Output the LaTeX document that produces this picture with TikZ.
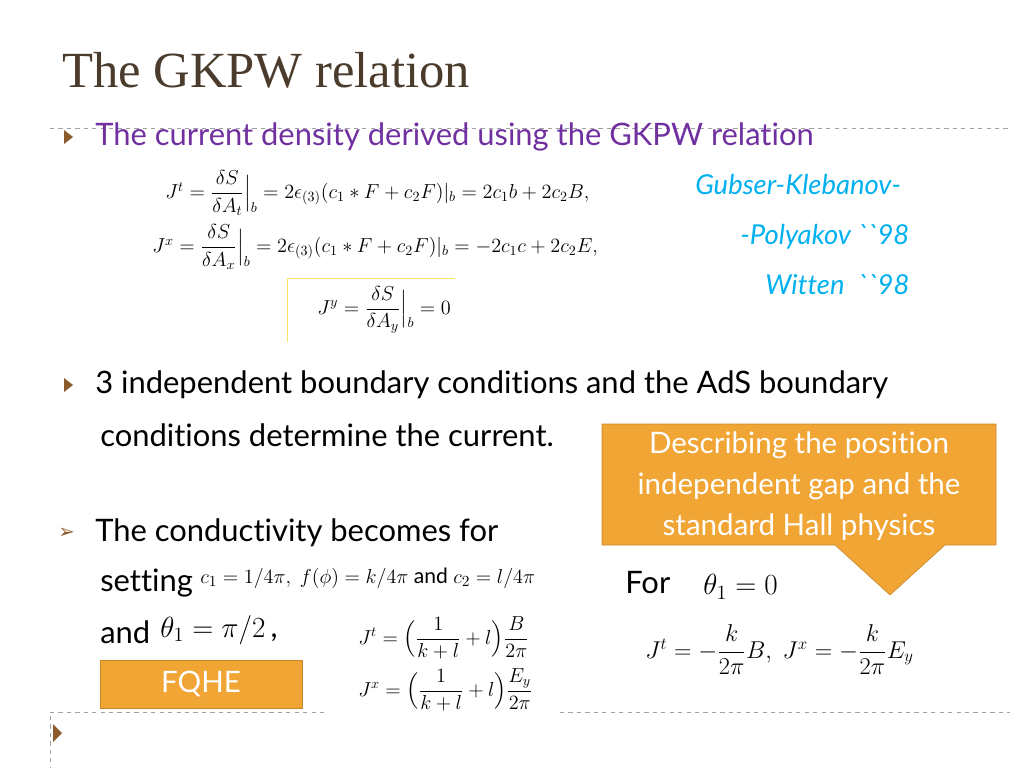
\documentclass[tikz,border=0pt]{standalone}
\usepackage{amsmath}
\usepackage{fontspec}
\setmainfont[Ligatures={NoCommon}]{Lato}
\newfontfamily\titlefont{Liberation Serif}
\newfontfamily\symfont{DejaVu Sans}
\usetikzlibrary{positioning}
\definecolor{titlebrown}{HTML}{4A3B2C}
\definecolor{bulletbrown}{HTML}{8C5A2B}
\definecolor{slidepurple}{HTML}{7030A0}
\definecolor{citeblue}{HTML}{00B0F0}
\definecolor{boxorange}{HTML}{F0A535}
\definecolor{boxedge}{HTML}{C8862A}
\definecolor{ruleline}{HTML}{A0A0A0}
\newcommand{\twoticks}{\textasciigrave\textasciigrave}
\begin{document}
\begin{tikzpicture}[x=0.025cm, y=-0.025cm,
txt/.style={anchor=west, inner sep=0pt, font=\fontsize{22}{26}\selectfont},
cite/.style={anchor=west, inner sep=0pt, text=citeblue, font=\fontsize{19.5}{22}\selectfont\itshape},
eqn/.style={anchor=west, inner sep=0pt, font=\fontsize{14}{17}\selectfont},
tri/.style={fill=bulletbrown, draw=none},
rule/.style={ruleline, dashed, thin},
orangebox/.style={fill=boxorange, draw=boxedge, text=white, align=center, font=\fontsize{21}{24}\selectfont} ]

\useasboundingbox (0,0) rectangle (1024,768);

% title and rules
\node[anchor=west, inner sep=0pt, text=titlebrown, font=\fontsize{36}{40}\selectfont\titlefont] (title) at (62,70) {The GKPW relation};
\draw[rule] (50,128) -- (1010,128);
\draw[rule] (50,712) -- (325,712);
\draw[rule] (560,712) -- (1010,712);
\draw[rule] (50,716) -- (50,768);

% first bullet
\fill[tri] (64,130) -- (73,137) -- (64,144) -- cycle;
\node[txt, text=slidepurple] (head) at (95,137) {The current density derived using the GKPW relation};
\node[eqn] (eqt) at (165,193) {$J^t=\dfrac{\delta S}{\delta A_t}\Big|_b = 2\epsilon_{(3)}(c_1*F+c_2F)|_b = 2c_1b+2c_2B,$};
\node[eqn] (eqx) at (152,247) {$J^x=\dfrac{\delta S}{\delta A_x}\Big|_b = 2\epsilon_{(3)}(c_1*F+c_2F)|_b = -2c_1c+2c_2E,$};
\draw[yellow!70!orange!60, thin] (287,342) -- (287,278) -- (455,278);
\node[eqn] (eqy) at (317,310) {$J^y=\dfrac{\delta S}{\delta A_y}\Big|_b = 0$};
\node[cite] (gk) at (695,185) {Gubser-Klebanov-};
\node[cite] (po) at (740,237) {-Polyakov \twoticks98};
\node[cite] (wi) at (765,285) {Witten\ \ \twoticks98};

% second bullet
\fill[tri] (64,378) -- (73,385) -- (64,392) -- cycle;
\node[txt] (bc1) at (95,385) {3 independent boundary conditions and the AdS boundary};
\node[txt] (bc2) at (100,435) {conditions determine the current.};

% callout
\fill[boxorange, draw=boxedge] (602,424) -- (996,424) -- (996,545) -- (945,545) -- (890,595) -- (835,545) -- (602,545) -- cycle;
\node[text=white, align=center, font=\fontsize{21}{29}\selectfont] (call) at (799,486) {Describing the position\\independent gap and the\\standard Hall physics};

% third bullet
\node[anchor=west, inner sep=0pt, text=bulletbrown, font=\fontsize{14}{16}\selectfont\symfont] (arr) at (58,533) {➢};
\node[txt] (cond) at (95,533) {The conductivity becomes for};
\node[txt] (set) at (100,583) {setting};
\node[eqn, font=\fontsize{15}{18}\selectfont] (seteq) at (200,578) {$c_1=1/4\pi,\ f(\phi)=k/4\pi\ \text{and}\ c_2=l/4\pi$};
\node[txt] (and) at (100,632) {and};
\node[anchor=west, inner sep=0pt, font=\fontsize{22}{24}\selectfont] (th2) at (160,630) {$\theta_1=\pi/2$\,,};
\node[eqn] (jt) at (358,638) {$J^t=\Bigl(\dfrac{1}{k+l}+l\Bigr)\dfrac{B}{2\pi}$};
\node[eqn] (jx) at (358,690) {$J^x=\Bigl(\dfrac{1}{k+l}+l\Bigr)\dfrac{E_y}{2\pi}$};
\node[txt] (for) at (625,583) {For};
\node[anchor=west, inner sep=0pt, font=\fontsize{22}{24}\selectfont] (th1) at (703,587) {$\theta_1=0$};
\node[anchor=west, inner sep=0pt, font=\fontsize{18}{20}\selectfont] (hall) at (645,650) {$J^t=-\dfrac{k}{2\pi}B,\ J^x=-\dfrac{k}{2\pi}E_y$};
\node[orangebox, minimum width=202*0.025cm, minimum height=48*0.025cm] (fqhe) at (201,684) {FQHE};

% last bullet
\fill[tri] (53,724) -- (62,733) -- (53,742) -- cycle;
\end{tikzpicture}
\end{document}
